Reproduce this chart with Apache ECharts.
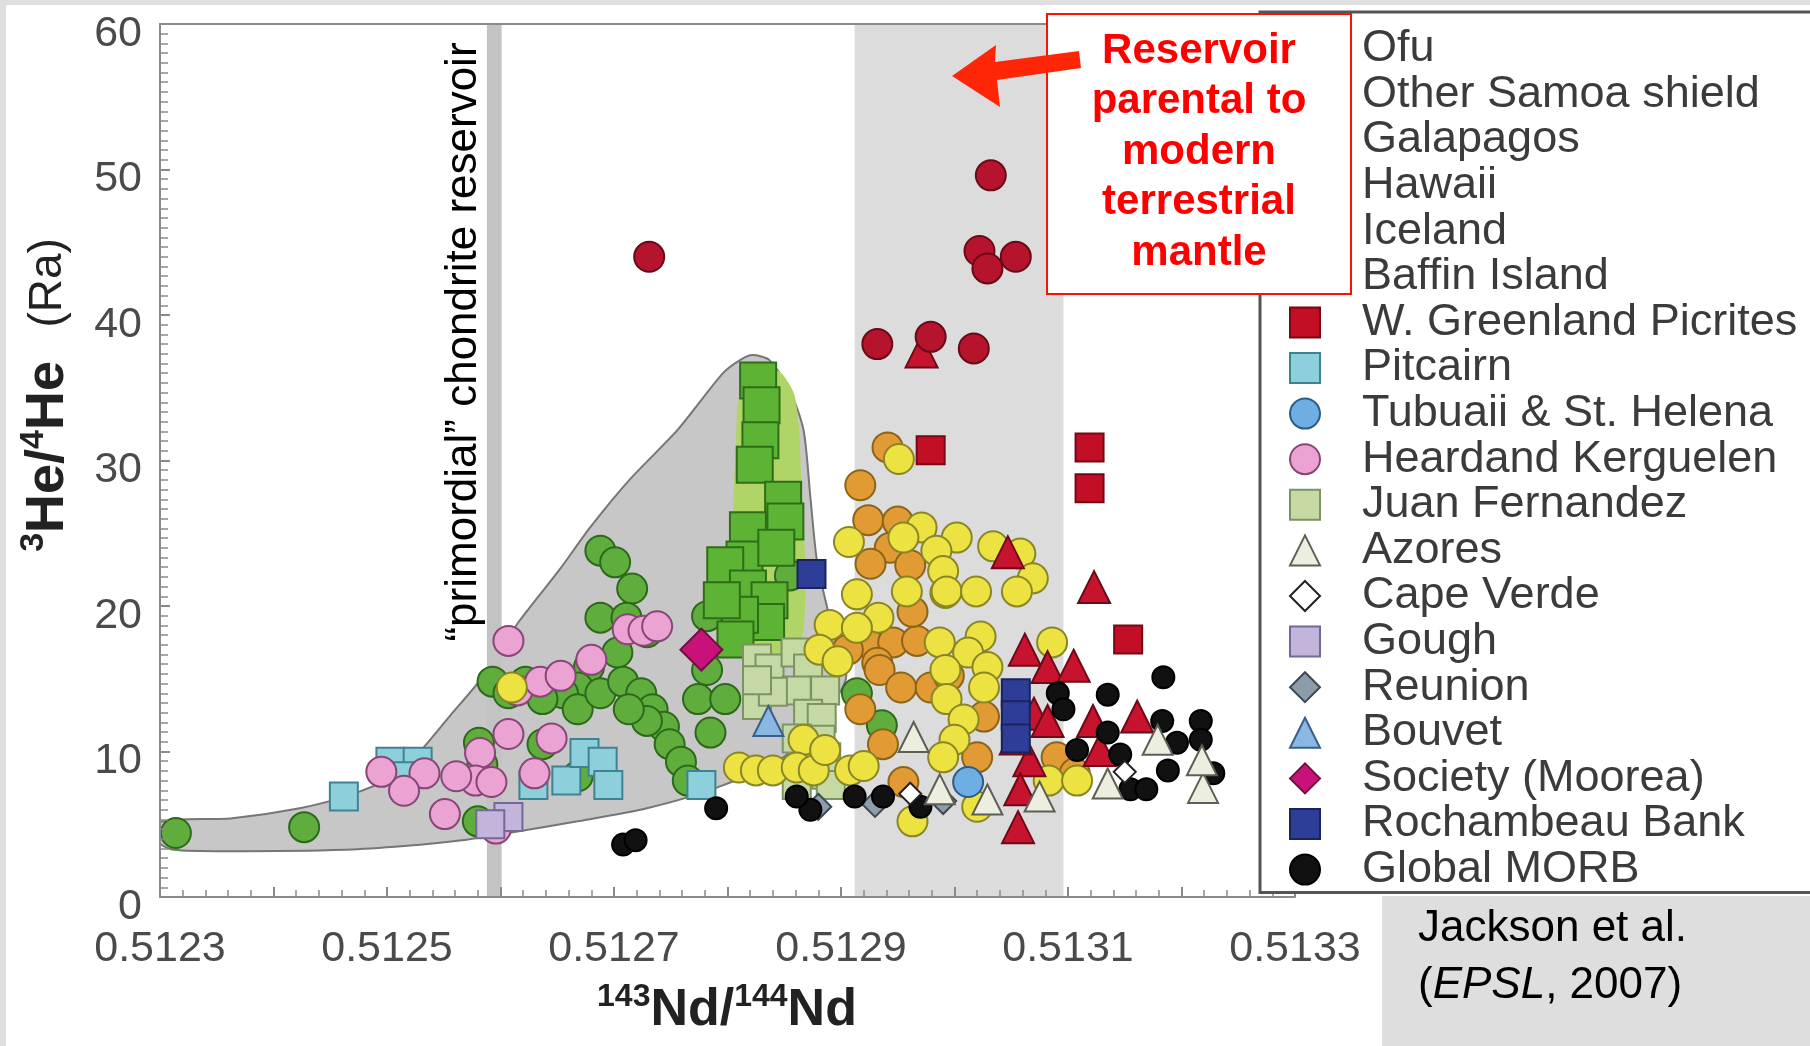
<!DOCTYPE html>
<html>
<head>
<meta charset="utf-8">
<script src="https://cdn.jsdelivr.net/npm/echarts/dist/echarts.min.js"></script>
<style>
  html, body { margin: 0; padding: 0; background: #ffffff; }
  #chart { width: 1810px; height: 1046px; }
</style>
</head>
<body>
<div id="chart"></div>
<script>
// 143Nd/144Nd vs 3He/4He for ocean island basalts, MORB and related suites.
// Each point is [143Nd/144Nd, 3He/4He (Ra)].

const ofu = [
  [0.512827, 35.5], [0.512830, 33.8], [0.512829, 31.4], [0.512824, 29.7], [0.512849, 27.3],
  [0.512851, 25.8], [0.512818, 25.2], [0.512815, 23.2], [0.512798, 22.8], [0.512818, 21.2],
  [0.512837, 20.4], [0.512834, 18.9], [0.512811, 19.4], [0.512795, 20.4], [0.512843, 24.0],
  [0.512807, 17.7]
];
const otherSamoa = [
  [0.512314, 4.4], [0.512427, 4.8], [0.512581, 10.6], [0.512584, 9.1], [0.512580, 5.2],
  [0.512593, 14.8], [0.512688, 23.8], [0.512701, 23.0], [0.512716, 21.2], [0.512688, 19.2],
  [0.512711, 19.2], [0.512729, 18.2], [0.512703, 16.8], [0.512678, 15.8], [0.512668, 14.4],
  [0.512655, 14.0], [0.512637, 13.6], [0.512668, 12.9], [0.512688, 14.0], [0.512708, 14.8],
  [0.512724, 14.0], [0.512734, 12.9], [0.512744, 11.7], [0.512749, 10.5], [0.512759, 9.3],
  [0.512765, 8.0], [0.512729, 12.1], [0.512713, 12.9], [0.512774, 13.6], [0.512798, 13.6],
  [0.512782, 15.6], [0.512785, 11.3], [0.512668, 8.3], [0.512637, 10.5], [0.512622, 14.8],
  [0.512607, 14.0], [0.512782, 19.3], [0.512855, 22.1], [0.512914, 14.0], [0.512936, 11.8]
];
const galapagos = [
  [0.512951, 30.1], [0.512971, 25.4], [0.512955, 24.7], [0.513002, 24.7], [0.512984, 23.8],
  [0.512990, 22.4], [0.512992, 20.9], [0.513034, 24.1], [0.513058, 23.6], [0.513069, 21.9],
  [0.513055, 21.0], [0.512907, 24.4], [0.512958, 21.0], [0.512993, 21.0], [0.513019, 21.0],
  [0.512914, 20.8], [0.512933, 19.2], [0.512890, 18.7], [0.512914, 18.5], [0.512987, 17.5],
  [0.513023, 17.9], [0.513012, 16.8], [0.513086, 17.5], [0.512881, 17.0], [0.512897, 16.2],
  [0.512992, 15.6], [0.513029, 15.8], [0.513026, 14.4], [0.512993, 13.6], [0.513008, 12.2],
  [0.513000, 10.8], [0.512990, 9.6], [0.512908, 8.7], [0.512920, 9.0], [0.513083, 8.0],
  [0.513108, 8.0], [0.512963, 5.2], [0.513020, 6.2], [0.512867, 10.8], [0.512810, 8.9],
  [0.512825, 8.7], [0.512840, 8.7], [0.512861, 8.9], [0.512876, 8.7], [0.512886, 10.1],
  [0.512610, 14.4]
];
const hawaii = [
  [0.512941, 30.9], [0.512917, 28.3], [0.512924, 25.9], [0.512950, 25.8], [0.512943, 24.0],
  [0.512926, 22.9], [0.512961, 22.8], [0.512923, 17.5], [0.512946, 17.5], [0.512967, 17.6],
  [0.512906, 17.0], [0.512932, 16.1], [0.512934, 15.6], [0.512953, 14.4], [0.512979, 14.4],
  [0.512917, 12.9], [0.512937, 10.5], [0.512955, 7.9], [0.513026, 12.4], [0.513020, 9.6],
  [0.513090, 9.6], [0.513106, 8.5], [0.512963, 19.6], [0.512995, 15.2]
];
const iceland = [
  [0.513047, 23.7], [0.513123, 21.3], [0.513062, 17.0], [0.513082, 15.8], [0.513105, 15.9],
  [0.513070, 12.6], [0.513082, 12.1], [0.513066, 9.4], [0.513058, 7.4], [0.513056, 4.8],
  [0.513122, 12.1], [0.513161, 12.4], [0.513128, 10.1], [0.512971, 37.5], [0.513054, 10.9]
];
const baffin = [
  [0.512731, 44.0], [0.513032, 49.6], [0.513022, 44.4], [0.513029, 43.2], [0.513054, 44.0],
  [0.512932, 38.0], [0.512979, 38.5], [0.513017, 37.7]
];
const wGreenland = [[0.512979, 30.7], [0.513119, 30.9], [0.513119, 28.1], [0.513153, 17.7]];
const pitcairn = [
  [0.512462, 6.9], [0.512503, 9.3], [0.512527, 9.3], [0.512515, 8.3], [0.512629, 7.7],
  [0.512658, 8.0], [0.512674, 9.9], [0.512690, 9.3], [0.512695, 7.7], [0.512777, 7.7]
];
const tubuaii = [[0.513012, 7.9]];
const heard = [
  [0.512607, 17.6], [0.512615, 14.2], [0.512635, 14.8], [0.512653, 15.2], [0.512680, 16.3],
  [0.512712, 18.4], [0.512726, 18.3], [0.512738, 18.6], [0.512607, 11.2], [0.512645, 10.9],
  [0.512630, 8.5], [0.512582, 9.9], [0.512578, 8.0], [0.512561, 8.3], [0.512533, 8.5],
  [0.512515, 7.3], [0.512495, 8.6], [0.512551, 5.7], [0.512596, 4.7], [0.512592, 7.9]
];
const juanFernandez = [
  [0.512826, 16.4], [0.512837, 15.7], [0.512860, 16.8], [0.512871, 15.7], [0.512861, 14.2],
  [0.512886, 14.2], [0.512871, 12.6], [0.512883, 12.3], [0.512861, 10.9], [0.512882, 10.8],
  [0.512887, 9.6], [0.512871, 9.4], [0.512887, 8.4], [0.512861, 7.7], [0.512891, 7.7],
  [0.512826, 13.2], [0.512840, 14.1], [0.512826, 14.9]
];
const azores = [
  [0.512987, 7.4], [0.513029, 6.7], [0.513135, 7.8], [0.513179, 10.8], [0.513219, 7.5],
  [0.513218, 9.4], [0.512964, 11.0], [0.513075, 6.9]
];
const capeVerde = [[0.512961, 7.1], [0.513150, 8.6]];
const gough = [[0.512607, 5.5], [0.512591, 5.0]];
const reunion = [[0.512930, 6.4], [0.512990, 6.6], [0.512880, 6.2]];
const bouvet = [[0.512836, 12.1]];
const society = [[0.512777, 17.0]];
const rochambeau = [[0.512874, 22.2], [0.513054, 14.0], [0.513054, 12.5], [0.513054, 10.9]];
const morb = [
  [0.512708, 3.6], [0.512719, 3.9], [0.512790, 6.1], [0.512873, 6.0], [0.512937, 6.9],
  [0.512970, 6.2], [0.513091, 14.0], [0.513096, 12.9], [0.513108, 10.1], [0.513135, 13.9],
  [0.513135, 11.3], [0.513146, 9.8], [0.513155, 7.4], [0.513169, 7.4], [0.513184, 15.1],
  [0.513183, 12.1], [0.513196, 10.6], [0.513188, 8.7], [0.513217, 12.1], [0.513217, 10.8],
  [0.513228, 8.5], [0.512912, 6.9], [0.512861, 6.9]
];

// Outline of the grey Samoa field and the light-green Ofu field
const samoaField = [
  [0.51230, 5.15], [0.512362, 5.4], [0.512423, 6.1], [0.512467, 7.0], [0.512503, 8.2],
  [0.512529, 10.0], [0.512556, 12.5], [0.512582, 14.9], [0.512615, 18.8], [0.512652, 22.5],
  [0.512679, 25.4], [0.512714, 28.7], [0.512756, 32.1], [0.512796, 36.0], [0.512811, 36.9],
  [0.512822, 37.25], [0.512837, 36.9], [0.512855, 34.8], [0.512867, 32.1], [0.512873, 27.5],
  [0.512879, 23.0], [0.512890, 19.2], [0.512904, 14.9], [0.512851, 9.7], [0.512790, 7.5],
  [0.512729, 6.1], [0.512668, 5.2], [0.512607, 4.4], [0.512566, 3.9], [0.512515, 3.5],
  [0.512464, 3.25], [0.512362, 3.15], [0.512312, 3.25], [0.51230, 3.7]
];
const ofuField = [
  [0.512809, 17.25], [0.512808, 32.8], [0.512813, 35.2], [0.512827, 36.4], [0.512846, 36.1],
  [0.512859, 34.5], [0.512864, 30.7], [0.512864, 17.25]
];

// Vertical reference bands: [from, to] in 143Nd/144Nd
const reservoirBand = [0.512912, 0.513096];
const chondriteBand = [0.512588, 0.512601];

const xTicks = { min: 0.5123, max: 0.5133, step: 0.0001 };
const yTicks = { min: 0, max: 60, step: 10 };

const FONT = '"Liberation Sans", Arial, Helvetica, sans-serif';

const styles = [
  { name: 'Ofu', data: ofu, symbol: 'rect', size: 36, fill: '#5db333', line: '#2e6e18', z: 6 },
  { name: 'Other Samoa shield', data: otherSamoa, symbol: 'circle', size: 30, fill: '#5fad3c', line: '#2e681b', z: 5 },
  { name: 'Galapagos', data: galapagos, symbol: 'circle', size: 30, fill: '#ece343', line: '#8a8626', z: 9 },
  { name: 'Hawaii', data: hawaii, symbol: 'circle', size: 30, fill: '#e29b34', line: '#8a6419', z: 8 },
  { name: 'Iceland', data: iceland, symbol: 'triangle', size: 32, fill: '#c8132f', line: '#6c0a17', z: 10 },
  { name: 'Baffin Island', data: baffin, symbol: 'circle', size: 30, fill: '#b6132d', line: '#680a17', z: 10 },
  { name: 'W. Greenland Picrites', data: wGreenland, symbol: 'rect', size: 28, fill: '#c20f26', line: '#740916', z: 10 },
  { name: 'Pitcairn', data: pitcairn, symbol: 'rect', size: 28, fill: '#8dcfdb', line: '#3e8392', z: 6 },
  { name: 'Tubuaii & St. Helena', data: tubuaii, symbol: 'circle', size: 30, fill: '#6eaee2', line: '#2c5d86', z: 12 },
  { name: 'Heardand Kerguelen', data: heard, symbol: 'circle', size: 30, fill: '#eba3d3', line: '#874676', z: 7 },
  { name: 'Juan Fernandez', data: juanFernandez, symbol: 'rect', size: 28, fill: '#c4d9a4', line: '#7d9364', z: 7 },
  { name: 'Azores', data: azores, symbol: 'triangle', size: 30, fill: '#eceee0', line: '#5e5e55', z: 12 },
  { name: 'Cape Verde', data: capeVerde, symbol: 'diamond', size: 22, fill: '#ffffff', line: '#222222', z: 12 },
  { name: 'Gough', data: gough, symbol: 'rect', size: 28, fill: '#c3b4dc', line: '#76679a', z: 7 },
  { name: 'Reunion', data: reunion, symbol: 'diamond', size: 26, fill: '#8d9cab', line: '#3d4955', z: 11 },
  { name: 'Bouvet', data: bouvet, symbol: 'triangle', size: 30, fill: '#8bb8e2', line: '#375f89', z: 12 },
  { name: 'Society (Moorea)', data: society, symbol: 'diamond', size: 42, fill: '#c8127a', line: '#6e0f3e', z: 12 },
  { name: 'Rochambeau Bank', data: rochambeau, symbol: 'rect', size: 28, fill: '#2e3d97', line: '#1a235c', z: 12 },
  { name: 'Global MORB', data: morb, symbol: 'circle', size: 22, fill: '#111111', line: '#000000', z: 11 }
];

function bandSeries(range, color, z) {
  return {
    type: 'custom', silent: true, z: z, clip: true,
    data: [range],
    renderItem: function (params, api) {
      const p0 = api.coord([api.value(0), yTicks.max]);
      const p1 = api.coord([api.value(1), yTicks.min]);
      return { type: 'rect', shape: { x: p0[0], y: p0[1], width: p1[0] - p0[0], height: p1[1] - p0[1] },
               style: { fill: color } };
    }
  };
}

function fieldSeries(points, fill, stroke, z) {
  return {
    type: 'custom', silent: true, z: z, clip: true,
    data: [points[0]],
    renderItem: function (params, api) {
      const pts = points.map(function (p) { return api.coord(p); });
      return { type: 'polygon', shape: { points: pts, smooth: 0.25 },
               style: { fill: fill, stroke: stroke, lineWidth: stroke ? 2 : 0 } };
    }
  };
}

const scatterSeries = styles.map(function (s) {
  return {
    type: 'scatter', name: s.name, data: s.data, symbol: s.symbol, symbolSize: s.size, z: s.z,
    itemStyle: { color: s.fill, borderColor: s.line, borderWidth: 2, opacity: 1 },
    emphasis: { disabled: true }
  };
});

const axisGrey = '#8a8a8a';

const option = {
  animation: false,
  backgroundColor: '#ffffff',
  grid: { left: 160, right: 515, top: 24, bottom: 149, containLabel: false },
  xAxis: [
    {
      type: 'value', position: 'bottom', min: xTicks.min, max: xTicks.max, interval: xTicks.step, z: 15,
      axisLine: { onZero: false, lineStyle: { color: axisGrey, width: 2 } },
      axisTick: { inside: true, length: 10, lineStyle: { color: axisGrey, width: 2 } },
      minorTick: { show: true, splitNumber: 5, length: 7, lineStyle: { color: axisGrey, width: 1.5 } },
      splitLine: { show: false },
      axisLabel: {
        margin: 31, fontSize: 43, fontFamily: FONT, color: '#4a4a4a',
        formatter: function (v) {
          const k = Math.round(v * 10000);
          return k % 2 === 1 ? (k / 10000).toFixed(4) : '';
        }
      }
    },
    {
      type: 'value', position: 'top', min: xTicks.min, max: xTicks.max, z: 15,
      axisLine: { onZero: false, lineStyle: { color: axisGrey, width: 2 } },
      axisTick: { show: false }, axisLabel: { show: false }, splitLine: { show: false }
    }
  ],
  yAxis: {
    type: 'value', min: yTicks.min, max: yTicks.max, interval: yTicks.step, z: 15,
    axisLine: { onZero: false, lineStyle: { color: axisGrey, width: 2 } },
    axisTick: { inside: true, length: 10, lineStyle: { color: axisGrey, width: 2 } },
    minorTick: { show: true, splitNumber: 15, length: 8, lineStyle: { color: axisGrey, width: 1.5 } },
    splitLine: { show: false },
    axisLabel: { margin: 18, fontSize: 43, fontFamily: FONT, color: '#4a4a4a', verticalAlign: 'top', lineHeight: 20 }
  },
  legend: {
    orient: 'vertical', left: 1260, top: 12, z: 20,
    padding: [14, 60, 0, 29], itemGap: 0, itemWidth: 30, itemHeight: 30,
    backgroundColor: '#ffffff', borderColor: '#555555', borderWidth: 3,
    selectedMode: false,
    textStyle: { fontSize: 45, fontFamily: FONT, color: '#3b3b3b', lineHeight: 45.6, padding: [0, 0, 0, 37] },
    data: styles.map(function (s) { return s.name; })
  },
  graphic: [
    { type: 'rect', z: 30, shape: { x: 0, y: 0, width: 1810, height: 5 }, style: { fill: '#dfdfdf' } },
    { type: 'rect', z: 30, shape: { x: 0, y: 0, width: 6, height: 1046 }, style: { fill: '#dfdfdf' } },
    // citation panel
    { type: 'rect', z: 30, shape: { x: 1382, y: 896, width: 428, height: 150 }, style: { fill: '#dedede' } },
    { type: 'text', z: 31, x: 1418, y: 929,
      style: { text: 'Jackson et al.', font: '44px ' + FONT, fill: '#000000', align: 'left', verticalAlign: 'middle' } },
    { type: 'text', z: 31, x: 1418, y: 986,
      style: { text: '({i|EPSL}, 2007)', font: '44px ' + FONT, fill: '#000000', align: 'left', verticalAlign: 'middle',
               rich: { i: { font: 'italic 44px ' + FONT, fill: '#000000' } } } },
    // annotation box and arrow
    { type: 'rect', z: 40, shape: { x: 1047, y: 14, width: 304, height: 280 },
      style: { fill: '#ffffff', stroke: '#ff1100', lineWidth: 2 } },
    { type: 'text', z: 41, x: 1199, y: 152,
      style: { text: 'Reservoir\nparental to\nmodern\nterrestrial\nmantle', font: 'bold 42px ' + FONT,
               fill: '#ff0000', align: 'center', verticalAlign: 'middle', lineHeight: 50.5 } },
    { type: 'polygon', z: 41,
      shape: { points: [[952, 76], [996, 45], [995, 62], [1079, 51], [1081, 68], [997, 80], [1000, 107]] },
      style: { fill: '#ff2608' } },
    // vertical label along the chondrite band
    { type: 'text', z: 25, x: 464, y: 342, rotation: Math.PI / 2,
      style: { text: '\u201Cprimordial\u201D chondrite reservoir', font: '44px ' + FONT, fill: '#000000',
               align: 'center', verticalAlign: 'middle' } },
    // axis titles
    { type: 'text', z: 25, x: 48, y: 395, rotation: Math.PI / 2,
      style: {
        text: '{s|3}{b|He/}{s|4}{b|He}{g|   }{n|(Ra)}', align: 'center', verticalAlign: 'middle', fill: '#222222',
        rich: {
          s: { font: 'bold 34px ' + FONT, fill: '#222222', lineHeight: 34, verticalAlign: 'top' },
          b: { font: 'bold 54px ' + FONT, fill: '#222222', lineHeight: 62 },
          g: { font: '40px ' + FONT, lineHeight: 62 },
          n: { font: '46px ' + FONT, fill: '#222222', lineHeight: 62 }
        }
      } },
    { type: 'text', z: 25, x: 727, y: 1011,
      style: {
        text: '{s|143}{b|Nd/}{s|144}{b|Nd}', align: 'center', verticalAlign: 'middle', fill: '#222222',
        rich: {
          s: { font: 'bold 32px ' + FONT, fill: '#222222', lineHeight: 32, verticalAlign: 'top' },
          b: { font: 'bold 52px ' + FONT, fill: '#222222', lineHeight: 60 }
        }
      } }
  ],
  series: [
    bandSeries(reservoirBand, '#dcdcdc', 1),
    fieldSeries(samoaField, '#c7c7c7', '#767676', 1.5),
    bandSeries(chondriteBand, '#c3c3c3', 1.7),
    fieldSeries(ofuField, '#b1d466', null, 1.8)
  ].concat(scatterSeries)
};

const chart = echarts.init(document.getElementById('chart'), null, { renderer: 'canvas' });
chart.setOption(option);
</script>
</body>
</html>
